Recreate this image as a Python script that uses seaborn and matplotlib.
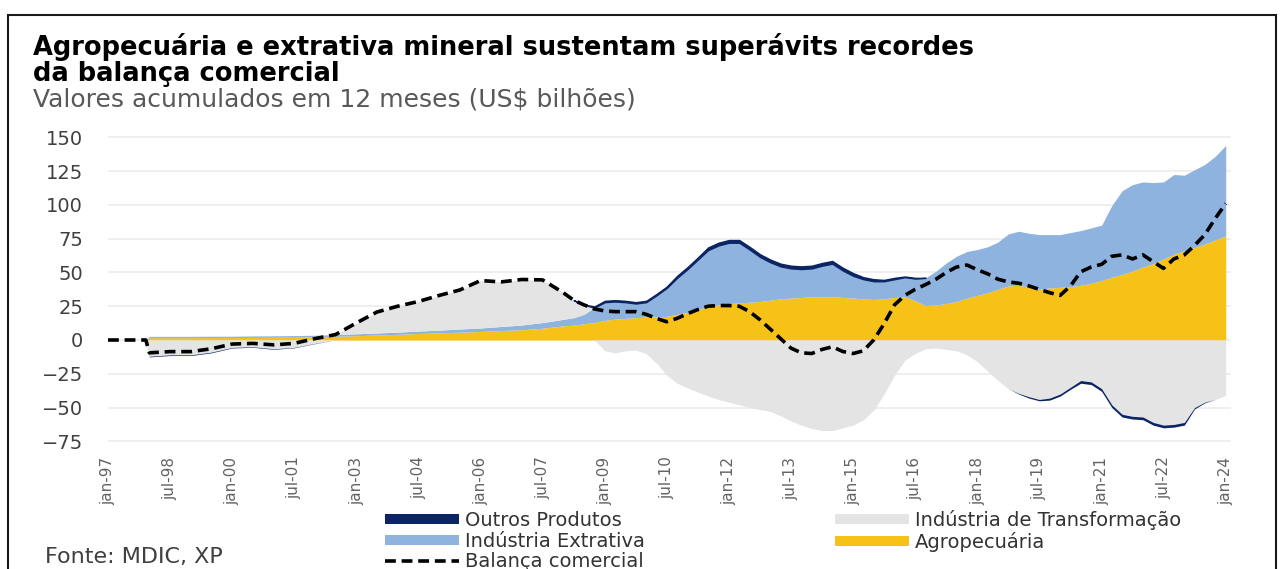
import matplotlib
matplotlib.use("Agg")
import matplotlib.pyplot as plt
from matplotlib.patches import Patch, Rectangle
from matplotlib.lines import Line2D
import numpy as np
import pandas as pd
import seaborn as sns

# dados (US$ bilhões, acumulado 12 meses)
datas = ["1997-01", "1997-12",
         "1998-01", "1998-07", "1999-01", "1999-07", "2000-01", "2000-07",
         "2001-01", "2001-07", "2002-01", "2002-07", "2003-01", "2003-07",
         "2004-01", "2004-07", "2005-01", "2005-07", "2006-01", "2006-07",
         "2007-01", "2007-07", "2008-01", "2008-04", "2008-07", "2008-10",
         "2009-01", "2009-04", "2009-07", "2009-10", "2010-01", "2010-04",
         "2010-07", "2010-10", "2011-01", "2011-04", "2011-07", "2011-10",
         "2012-01", "2012-04", "2012-07", "2012-10", "2013-01", "2013-04",
         "2013-07", "2013-10", "2014-01", "2014-04", "2014-07", "2014-10",
         "2015-01", "2015-04", "2015-07", "2015-10", "2016-01", "2016-04",
         "2016-07", "2016-10", "2017-01", "2017-04", "2017-07", "2017-10",
         "2018-01", "2018-04", "2018-07", "2018-10", "2019-01", "2019-04",
         "2019-07", "2019-10", "2020-01", "2020-04", "2020-07", "2020-10",
         "2021-01", "2021-04", "2021-07", "2021-10", "2022-01", "2022-04",
         "2022-07", "2022-10", "2023-01", "2023-04", "2023-07", "2023-10",
         "2024-01"]

agropecuaria = [0, 0,
                1.7, 1.7, 1.7, 1.8, 1.8, 1.9, 2.0, 2.1, 2.3, 2.7, 3.2, 3.7,
                4.2, 4.8, 5.3, 5.8, 6.3, 7.0, 7.6, 8.7, 10.5, 11.0, 12.0, 13.0,
                14.5, 15.5, 16.0, 16.5, 17.0, 17.0, 17.5, 19.0, 20.5, 22.5, 24.5, 26.0,
                27.0, 27.5, 28.0, 28.5, 29.5, 30.5, 31.0, 31.5, 32.0, 32.0, 32.0, 31.5,
                31.0, 30.5, 30.0, 30.5, 31.5, 32.0, 29.0, 25.5, 26.0, 27.0, 28.5, 31.0,
                33.0, 35.0, 37.5, 40.0, 40.5, 39.0, 37.5, 38.5, 39.0, 39.5, 40.5, 42.0,
                44.0, 46.5, 48.5, 51.0, 54.0, 56.5, 60.0, 63.5, 66.0, 68.5, 71.0, 74.0,
                77.0]

extrativa = [0, 0,
             1.0, 1.0, 1.0, 1.0, 1.0, 1.1, 1.1, 1.2, 1.2, 1.3, 1.4, 1.5,
             1.6, 1.8, 2.0, 2.3, 2.6, 3.0, 3.5, 4.2, 4.8, 5.5, 7.0, 11.0,
             13.5, 13.0, 12.0, 10.5, 11.0, 16.0, 21.0, 27.0, 32.0, 37.0, 42.0, 44.0,
             45.0, 44.5, 39.0, 33.0, 28.0, 24.0, 22.0, 21.0, 21.0, 23.0, 24.5, 20.0,
             16.5, 14.5, 13.5, 13.0, 13.5, 14.5, 16.5, 20.5, 25.0, 30.0, 33.5, 34.5,
             34.0, 34.0, 35.0, 38.5, 40.0, 40.0, 40.5, 39.5, 39.0, 40.0, 40.5, 41.0,
             41.0, 53.0, 62.0, 64.0, 63.0, 60.0, 57.0, 59.0, 56.0, 57.5, 59.0, 62.0,
             67.0]

transformacao = [0, 0,
                 -12.0, -11.0, -11.0, -9.0, -5.5, -5.0, -6.5, -5.5, -2.5, 0.0, 8.0, 15.5,
                 19.5, 22.0, 25.5, 29.0, 35.0, 33.0, 33.5, 31.5, 20.0, 13.0, 7.0, 0.0,
                 -8.0, -9.5, -8.0, -7.5, -10.0, -17.0, -26.0, -32.0, -35.5, -38.5, -41.5, -44.0,
                 -46.0, -48.0, -50.0, -51.5, -53.0, -56.0, -60.0, -63.0, -65.5, -67.0, -67.0, -65.0,
                 -63.0, -59.0, -52.0, -40.0, -26.0, -15.0, -10.0, -6.5, -6.0, -7.0, -8.0, -11.0,
                 -16.0, -23.0, -30.0, -36.0, -39.5, -42.0, -44.0, -43.0, -40.0, -35.0, -30.0, -31.0,
                 -36.0, -48.0, -55.0, -56.5, -57.0, -61.0, -63.0, -62.5, -61.0, -50.0, -46.0, -44.0,
                 -41.0]

outros = [0, 0,
          -0.5, -0.5, -0.5, -0.5, -0.4, -0.4, -0.4, -0.3, -0.2, 0, 0, 0,
          0, 0, 0, 0, 0, 0, 0, 0, 0, 0, 0.3, 0.8,
          1.0, 1.0, 1.0, 1.0, 1.0, 1.0, 1.0, 1.5, 1.5, 1.5, 2.0, 2.0,
          2.0, 2.0, 2.0, 2.0, 2.0, 2.0, 2.0, 2.0, 2.0, 2.0, 2.0, 2.0,
          2.0, 1.5, 1.5, 1.0, 1.0, 0.5, 0.5, 0, 0, 0, 0, 0,
          0, 0, 0, 0, -0.5, -1.0, -1.0, -1.5, -1.5, -1.5, -2.0, -2.0,
          -2.0, -2.0, -2.0, -2.0, -2.0, -2.0, -2.0, -2.0, -2.0, -1.0, -0.5, 0,
          0]

balanca = [0, 0,
           -9.5, -8.6, -8.6, -6.5, -3.0, -2.5, -3.6, -2.5, 1.0, 4.0, 12.6, 20.7,
           25.0, 28.5, 33.0, 37.0, 44.0, 43.0, 44.8, 44.5, 35.0, 29.5, 26.0, 23.0,
           21.5, 21.0, 21.0, 21.0, 19.0, 16.0, 13.5, 16.0, 19.5, 22.5, 25.0, 25.5,
           25.5, 25.0, 21.0, 15.0, 8.0, 1.0, -6.0, -9.5, -10.0, -7.0, -5.0, -8.5,
           -10.0, -8.0, 0.0, 12.0, 26.0, 33.0, 37.5, 41.0, 45.0, 50.0, 54.0, 55.5,
           52.0, 49.0, 45.0, 43.0, 42.0, 40.0, 37.5, 35.0, 33.0, 40.0, 50.5, 54.0,
           56.0, 62.0, 63.0, 60.0, 63.0, 58.0, 53.0, 60.0, 63.0, 70.0, 78.0, 90.0,
           101.0]

tick_datas = ["1997-01", "1998-07", "2000-01", "2001-07", "2003-01", "2004-07",
              "2006-01", "2007-07", "2009-01", "2010-07", "2012-01", "2013-07",
              "2015-01", "2016-07", "2018-01", "2019-07", "2021-01", "2022-07",
              "2024-01"]
tick_labels = ["jan-97", "jul-98", "jan-00", "jul-01", "jan-03", "jul-04",
               "jan-06", "jul-07", "jan-09", "jul-10", "jan-12", "jul-13",
               "jan-15", "jul-16", "jan-18", "jul-19", "jan-21", "jul-22",
               "jan-24"]

cores = {
    "Outros Produtos": "#0b2463",
    "Indústria de Transformação": "#e4e4e4",
    "Indústria Extrativa": "#8db3de",
    "Agropecuária": "#f7c217",
}

df = pd.DataFrame({
    "data": pd.to_datetime(datas),
    "Agropecuária": agropecuaria,
    "Indústria Extrativa": extrativa,
    "Indústria de Transformação": transformacao,
    "Outros Produtos": outros,
    "Balança comercial": balanca,
})

sns.set_style("white")
plt.rcParams["font.family"] = ["DejaVu Sans"]

W, H = 1288, 569
fig = plt.figure(figsize=(W / 100, H / 100), dpi=100)

# eixo posicionado em pixels
x0 = 108
px_ano = 41.4
xmin, xmax = pd.Timestamp("1997-01-01"), pd.Timestamp("2024-02-15")
largura = (xmax - xmin).days / 365.25 * px_ano
ymin, ymax = -76, 151
px_un = 1.351
y_top = 340 - ymax * px_un
y_bot = 340 - ymin * px_un
ax = fig.add_axes([x0 / W, 1 - y_bot / H, largura / W, (y_bot - y_top) / H])

# áreas empilhadas (positivos para cima, negativos para baixo)
x = df["data"]
base_pos = np.zeros(len(df))
base_neg = np.zeros(len(df))
for serie in ["Agropecuária", "Indústria Extrativa", "Indústria de Transformação", "Outros Produtos"]:
    v = df[serie].to_numpy()
    p = np.clip(v, 0, None)
    n = np.clip(v, None, 0)
    if serie == "Outros Produtos":
        # contorno só onde há valor positivo (linha escura no topo)
        tem = (p > 0) | (np.roll(p, 1) > 0) | (np.roll(p, -1) > 0)
        ax.fill_between(x, base_pos, base_pos + p, where=tem, color=cores[serie],
                        lw=1.0, zorder=2)
    else:
        ax.fill_between(x, base_pos, base_pos + p, color=cores[serie], lw=0, zorder=2)
    ax.fill_between(x, base_neg, base_neg + n, color=cores[serie], lw=0, zorder=2)
    base_pos = base_pos + p
    base_neg = base_neg + n

sns.lineplot(data=df, x="data", y="Balança comercial", color="black", lw=2.6, ax=ax, zorder=5)
ax.lines[-1].set_dashes((3, 1.6))

ax.set_xlim(xmin, xmax)
ax.set_ylim(ymin, ymax)
ax.set_yticks(range(-75, 151, 25))
ax.set_xticks(pd.to_datetime(tick_datas))
ax.set_xticklabels(tick_labels, rotation=90, fontsize=11, color="#636363")
ax.grid(axis="y", color="#ececec", lw=1.2, zorder=0)
ax.set_axisbelow(True)
ax.set_xlabel("")
ax.set_ylabel("")
for s in ax.spines.values():
    s.set_visible(False)
ax.tick_params(axis="x", length=0, pad=10)
ax.yaxis.set_tick_params(labelsize=14, labelcolor="#404040", length=0, pad=18)

# textos
fig.text(33 / W, 1 - 55 / H, "Agropecuária e extrativa mineral sustentam superávits recordes",
         fontsize=18.5, fontweight="bold", color="black", va="baseline", ha="left")
fig.text(33 / W, 1 - 81 / H, "da balança comercial",
         fontsize=18.5, fontweight="bold", color="black", va="baseline", ha="left")
fig.text(33 / W, 1 - 106 / H, "Valores acumulados em 12 meses (US$ bilhões)",
         fontsize=18, color="#595959", va="baseline", ha="left")
fig.text(45 / W, 1 - 557 / H, "Fonte: MDIC, XP", fontsize=16, color="#404040",
         va="center", ha="left")

# legenda em duas colunas
h = {nome: Patch(facecolor=c, edgecolor="none") for nome, c in cores.items()}
h["Balança comercial"] = Line2D([0], [0], color="black", lw=2.6, dashes=(3, 1.6))
ordem = ["Outros Produtos", "Indústria Extrativa", "Balança comercial",
         "Indústria de Transformação", "Agropecuária"]
fig.legend([h[k] for k in ordem], ordem, loc="upper left",
           bbox_to_anchor=(385 / W, 1 - 510 / H), ncol=2, frameon=False,
           fontsize=14, labelcolor="#333333", handlelength=3.8, handleheight=0.4,
           handletextpad=0.3, columnspacing=9.8, labelspacing=0.08, borderpad=0,
           borderaxespad=0)

# moldura
fig.add_artist(Rectangle((8 / W, -0.05), (1276 - 8) / W, 1.05 - 15 / H,
                         transform=fig.transFigure, fill=False, edgecolor="#1a1a1a",
                         lw=1.5, clip_on=False))

fig.savefig("out.png", dpi=100)
